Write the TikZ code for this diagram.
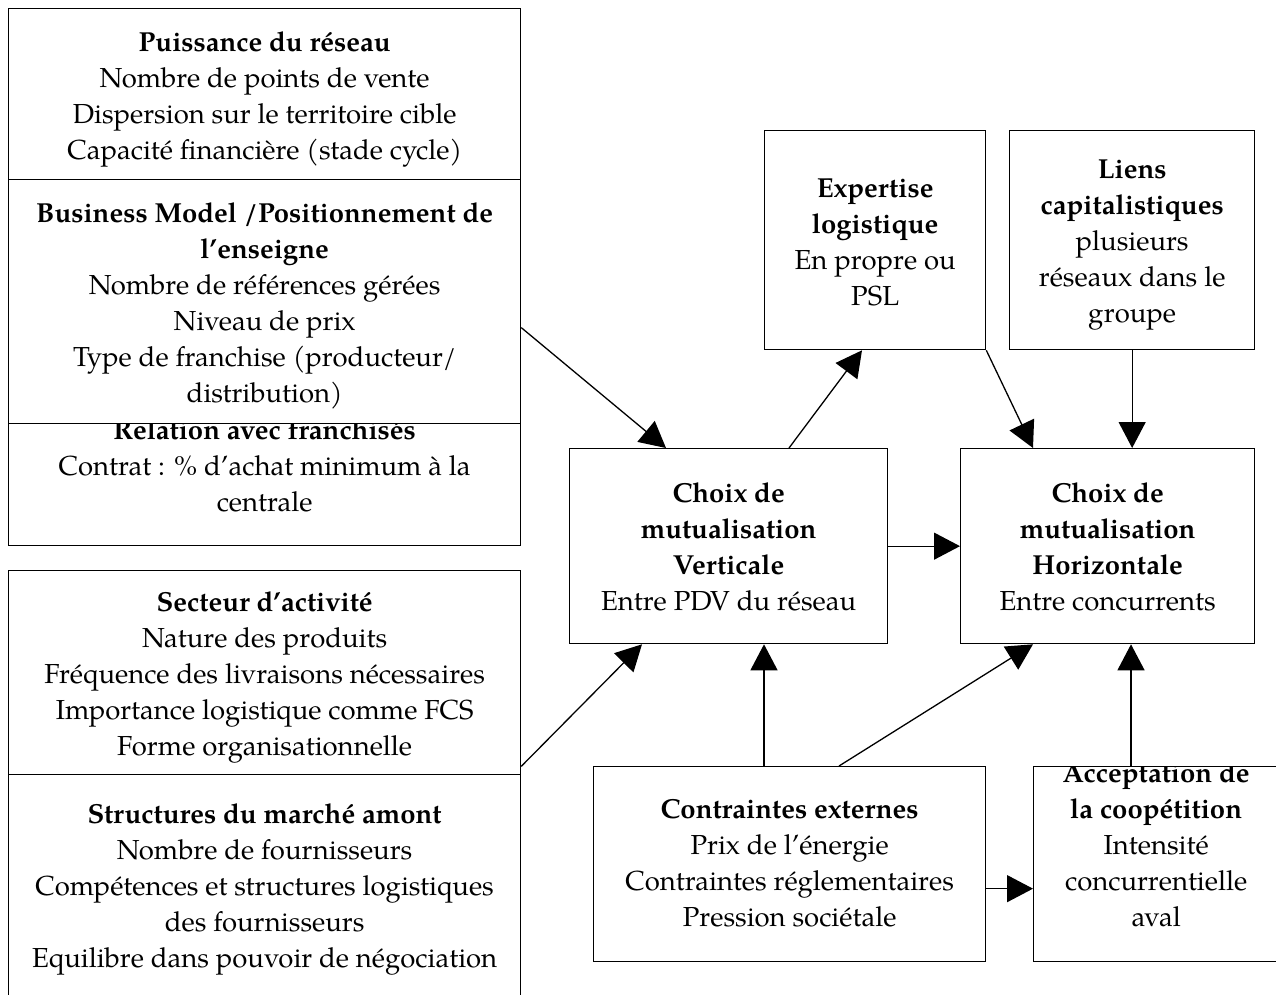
\documentclass[tikz,border=0pt]{standalone}
\usepackage{fontspec}
\setmainfont{TeX Gyre Pagella}
\usetikzlibrary{arrows.meta}
\begin{document}
\begin{tikzpicture}[x=1pt,y=-1pt,
  box/.style={draw, line width=1.3pt, inner sep=0pt, anchor=north west},
  txt/.style={anchor=north, inner sep=0pt, align=center, font=\fontsize{27.5}{36}\selectfont},
  arr/.style={line width=1.3pt, -{Triangle[length=26pt,width=27pt]}}]
\useasboundingbox (0,0) rectangle (1276,994);
\clip (0,0) rectangle (1276,994);
% boxes
\node[box, minimum width=512pt, minimum height=171pt] (a1) at (8,8) {};
\node[box, minimum width=512pt, minimum height=244pt] (a2) at (8,179) {};
\node[box, minimum width=512pt, minimum height=122pt] (a3) at (8,423) {};
\node[box, minimum width=512pt, minimum height=204pt] (b1) at (8,570) {};
\node[box, minimum width=512pt, minimum height=240pt] (b2) at (8,774) {};
\node[box, minimum width=221pt, minimum height=219pt] (exp) at (764,130) {};
\node[box, minimum width=245pt, minimum height=219pt] (liens) at (1009,130) {};
\node[box, minimum width=318pt, minimum height=195pt] (vert) at (569,448) {};
\node[box, minimum width=294pt, minimum height=195pt] (horiz) at (960,448) {};
\node[box, minimum width=392pt, minimum height=195pt] (contr) at (593,766) {};
\node[box, minimum width=245pt, minimum height=195pt] (accept) at (1033,766) {};
% texts
\node[txt] (ta1) at ([yshift=-17.8pt]a1.north) {\strut\textbf{Puissance du réseau}\\Nombre de points de vente\\Dispersion sur le territoire cible\\Capacité financière (stade cycle)};
\node[txt] (ta2) at ([yshift=-17.8pt]a2.north) {\strut\textbf{Business Model /Positionnement de}\\\textbf{l’enseigne}\\Nombre de références gérées\\Niveau de prix\\Type de franchise (producteur/\\distribution)};
\begin{scope}
\clip (a3.south west) rectangle (a3.north east);
\node[txt] (ta3) at ([yshift=9.2pt]a3.north) {\strut\textbf{Relation avec franchisés}\\Contrat : \% d’achat minimum à la\\centrale};
\end{scope}
\node[txt] (tb1) at ([yshift=-15.8pt]b1.north) {\strut\textbf{Secteur d’activité}\\Nature des produits\\Fréquence des livraisons nécessaires\\Importance logistique comme FCS\\Forme organisationnelle};
\node[txt] (tb2) at ([yshift=-23.8pt]b2.north) {\strut\textbf{Structures du marché amont}\\Nombre de fournisseurs\\Compétences et structures logistiques\\des fournisseurs\\Equilibre dans pouvoir de négociation};
\node[txt] (texp) at ([yshift=-41.8pt]exp.north) {\strut\textbf{Expertise}\\\textbf{logistique}\\En propre ou\\PSL};
\node[txt] (tliens) at ([yshift=-22.8pt]liens.north) {\strut\textbf{Liens}\\\textbf{capitalistiques}\\plusieurs\\réseaux dans le\\groupe};
\node[txt] (tvert) at ([yshift=-28.8pt]vert.north) {\strut\textbf{Choix de}\\\textbf{mutualisation}\\\textbf{Verticale}\\Entre PDV du réseau};
\node[txt] (thoriz) at ([yshift=-28.8pt]horiz.north) {\strut\textbf{Choix de}\\\textbf{mutualisation}\\\textbf{Horizontale}\\Entre concurrents};
\node[txt] (tcontr) at ([yshift=-26.8pt]contr.north) {\strut\textbf{Contraintes externes}\\Prix de l’énergie\\Contraintes réglementaires\\Pression sociétale};
\begin{scope}
\clip (accept.south west) rectangle (accept.north east);
\node[txt] (taccept) at ([yshift=9.2pt]accept.north) {\strut\textbf{Acceptation de}\\\textbf{la coopétition}\\Intensité\\concurrentielle\\aval};
\end{scope}
% arrows
\draw[arr] ([yshift=-26pt]a2.east) -- ([xshift=97pt]vert.north west);
\draw[arr] ([yshift=9pt]b1.south east) -- ([xshift=73pt]vert.south west);
\draw[arr] ([xshift=220pt]vert.north west) -- ([xshift=98pt]exp.south west);
\draw[arr] (exp.south east) -- ([xshift=73pt]horiz.north west);
\draw[arr] (liens.south) -- (liens.south |- horiz.north);
\draw[arr] (vert.east) -- (horiz.west);
\coordinate (c1) at ([xshift=171pt]contr.north west);
\draw[arr] (c1) -- (c1 |- vert.south);
\draw[arr] ([xshift=246pt]contr.north west) -- ([xshift=73pt]horiz.south west);
\coordinate (c3) at ([xshift=98pt]accept.north west);
\draw[arr] (c3) -- (c3 |- horiz.south);
\coordinate (c4) at ([yshift=-24.5pt]contr.east);
\draw[arr] (c4) -- (c4 -| accept.west);
\end{tikzpicture}
\end{document}
